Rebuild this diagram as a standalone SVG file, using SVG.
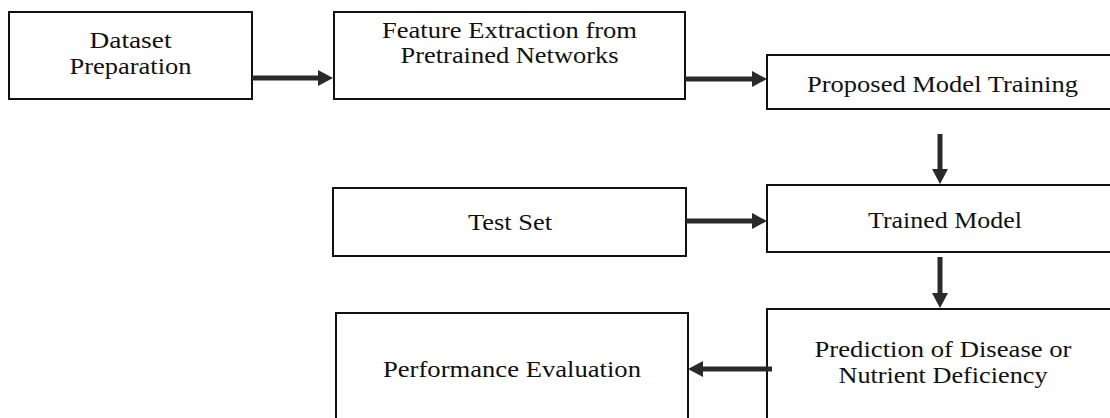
<svg xmlns="http://www.w3.org/2000/svg" width="1110" height="418" viewBox="0 0 1110 418">
  <style>
    .box { fill: #ffffff; stroke: #111111; stroke-width: 2; }
    .lbl { font-family: 'Liberation Serif', 'Times New Roman', serif; font-size: 22.5px; fill: #111111; text-anchor: middle; }
    .arr { stroke: #2a2a2a; stroke-width: 5; fill: none; marker-end: url(#head); }
  </style>
  <defs>
    <marker id="head" viewBox="0 0 15 16" markerWidth="15" markerHeight="16" refX="1" refY="8" orient="auto" markerUnits="userSpaceOnUse">
      <path d="M0,0 L15,8 L0,16 z" fill="#2a2a2a"/>
    </marker>
  </defs>
  <rect x="0" y="0" width="1110" height="418" fill="#ffffff"/>

  <g id="dataset-preparation">
    <rect class="box" x="9" y="12" width="243" height="87"/>
    <text class="lbl" x="130.5" y="48" textLength="82" lengthAdjust="spacingAndGlyphs">Dataset</text>
    <text class="lbl" x="130.5" y="74" textLength="122" lengthAdjust="spacingAndGlyphs">Preparation</text>
  </g>

  <g id="feature-extraction">
    <rect class="box" x="334" y="12" width="351" height="87"/>
    <text class="lbl" x="509.5" y="38" textLength="255" lengthAdjust="spacingAndGlyphs">Feature Extraction from</text>
    <text class="lbl" x="509.5" y="63" textLength="218" lengthAdjust="spacingAndGlyphs">Pretrained Networks</text>
  </g>

  <g id="proposed-model-training">
    <rect class="box" x="767" y="55" width="352" height="54"/>
    <text class="lbl" x="942.5" y="92" textLength="271" lengthAdjust="spacingAndGlyphs">Proposed Model Training</text>
  </g>

  <g id="test-set">
    <rect class="box" x="333" y="188" width="353" height="68"/>
    <text class="lbl" x="510" y="230" textLength="84" lengthAdjust="spacingAndGlyphs">Test Set</text>
  </g>

  <g id="trained-model">
    <rect class="box" x="767" y="185" width="352" height="67"/>
    <text class="lbl" x="945" y="228" textLength="154" lengthAdjust="spacingAndGlyphs">Trained Model</text>
  </g>

  <g id="prediction">
    <rect class="box" x="767" y="309" width="352" height="120"/>
    <text class="lbl" x="943" y="357" textLength="257" lengthAdjust="spacingAndGlyphs">Prediction of Disease or</text>
    <text class="lbl" x="943" y="383" textLength="209" lengthAdjust="spacingAndGlyphs">Nutrient Deficiency</text>
  </g>

  <g id="performance-evaluation">
    <rect class="box" x="336" y="313" width="352" height="116"/>
    <text class="lbl" x="512" y="377" textLength="258" lengthAdjust="spacingAndGlyphs">Performance Evaluation</text>
  </g>

  <g id="connectors">
    <line class="arr" x1="252" y1="78" x2="319" y2="78"/>
    <line class="arr" x1="685" y1="79" x2="753" y2="79"/>
    <line class="arr" x1="940" y1="134" x2="940" y2="170"/>
    <line class="arr" x1="686" y1="221" x2="753" y2="221"/>
    <line class="arr" x1="940" y1="257" x2="940" y2="294"/>
    <line class="arr" x1="772" y1="369" x2="702" y2="369"/>
  </g>
</svg>
